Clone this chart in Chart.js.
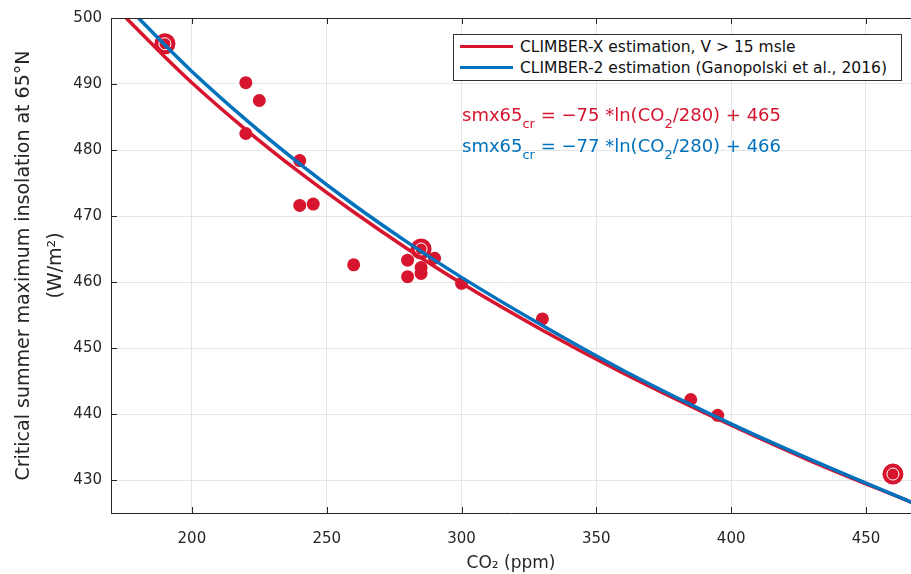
<!DOCTYPE html>
<html>
<head>
<meta charset="utf-8">
<script src="https://cdn.jsdelivr.net/npm/chart.js@4/dist/chart.umd.min.js"></script>
<style>
  html, body { margin: 0; padding: 0; background: #fff; }
  #wrap { position: relative; width: 911px; height: 574px; overflow: hidden; font-family: 'DejaVu Sans', sans-serif; }
  #c { display: block; }
  .legend {
    position: absolute; left: 453px; top: 34px; width: 449px; height: 47px;
    border: 1px solid #333; background: #fff; box-sizing: border-box; font-size: 15.5px; color: #111;
  }
  .legend .row { position: absolute; left: 6px; height: 20px; line-height: 20px; white-space: nowrap; }
  .legend .swatch { display: inline-block; width: 53px; height: 3px; vertical-align: middle; margin-right: 7px; position: relative; top: -1px; }
  .eq { position: absolute; left: 462px; font-size: 18px; white-space: nowrap; }
  .eq sub { font-size: 13px; vertical-align: -7px; line-height: 0; }
</style>
</head>
<body>
<div id="wrap">
  <canvas id="c" width="911" height="574"></canvas>
  <div class="legend">
    <div class="row" style="top:2px"><span class="swatch" style="background:#d7152f"></span>CLIMBER-X estimation, V &gt; 15 msle</div>
    <div class="row" style="top:23px"><span class="swatch" style="background:#0072bd"></span>CLIMBER-2 estimation (Ganopolski et al., 2016)</div>
  </div>
  <div class="eq" style="top:104px; color:#d7152f">smx65<sub>cr</sub> = −75 *ln(CO<sub>2</sub>/280) + 465</div>
  <div class="eq" style="top:135px; color:#0072bd">smx65<sub>cr</sub> = −77 *ln(CO<sub>2</sub>/280) + 466</div>
</div>
<script>
// data
const xTicks = [200, 250, 300, 350, 400, 450];
const yTicks = [430, 440, 450, 460, 470, 480, 490, 500];

// CLIMBER-X fit (red)
const redCo2 = [175.6, 190, 200, 220, 240, 260, 280, 300, 330, 360, 400, 430, 467];
const redSmx = [500, 494.1, 490.2, 483.1, 476.6, 470.6, 465, 459.8, 452.7, 446.2, 438.3, 432.8, 426.6];

// CLIMBER-2 fit (blue)
const blueCo2 = [180.2, 190, 200, 220, 240, 260, 280, 300, 330, 360, 400, 430, 467];
const blueSmx = [500, 495.9, 491.9, 484.6, 477.9, 471.7, 466, 460.7, 453.4, 446.6, 438.5, 433.0, 426.6];

// simulations
const dotCo2 = [220, 225, 220, 240, 240, 245, 260, 280, 280, 285, 285, 290, 300, 330, 385, 395];
const dotSmx = [490.2, 487.5, 482.5, 478.4, 471.6, 471.8, 462.6, 463.3, 460.8, 462.2, 461.3, 463.6, 459.8, 454.4, 442.2, 439.8];

// highlighted simulations
const bigCo2 = [190, 285, 460];
const bigSmx = [496.1, 465.0, 430.9];

const RED = '#d7152f';
const BLUE = '#0072bd';

const pts = (xs, ys) => xs.map((x, i) => ({ x: x, y: ys[i] }));

// box on top + inward ticks, like matlab axes
const axesBox = {
  id: 'axesBox',
  afterDraw(chart) {
    const { ctx, chartArea: a, scales } = chart;
    ctx.save();
    ctx.strokeStyle = '#262626';
    ctx.lineWidth = 1;
    ctx.beginPath();
    ctx.moveTo(a.left, a.top + 0.5);
    ctx.lineTo(a.right, a.top + 0.5);
    xTicks.forEach(v => {
      const px = Math.round(scales.x.getPixelForValue(v)) + 0.5;
      ctx.moveTo(px, a.bottom);
      ctx.lineTo(px, a.bottom - 6);
      ctx.moveTo(px, a.top);
      ctx.lineTo(px, a.top + 6);
    });
    yTicks.forEach(v => {
      const py = Math.round(scales.y.getPixelForValue(v)) + 0.5;
      ctx.moveTo(a.left, py);
      ctx.lineTo(a.left + 6, py);
    });
    ctx.stroke();
    ctx.restore();
  }
};

new Chart(document.getElementById('c'), {
  type: 'scatter',
  data: {
    datasets: [
      {
        label: 'CLIMBER-2 estimation (Ganopolski et al., 2016)',
        data: pts(blueCo2, blueSmx),
        showLine: true, borderColor: BLUE, borderWidth: 3.5, pointRadius: 0,
        cubicInterpolationMode: 'monotone', fill: false
      },
      {
        label: 'CLIMBER-X estimation, V > 15 msle',
        data: pts(redCo2, redSmx),
        showLine: true, borderColor: RED, borderWidth: 3.5, pointRadius: 0,
        cubicInterpolationMode: 'monotone', fill: false
      },
      {
        label: 'highlight inner',
        data: pts(bigCo2, bigSmx),
        pointRadius: 6, backgroundColor: RED, borderColor: '#fff', borderWidth: 1
      },
      {
        label: 'highlight',
        data: pts(bigCo2, bigSmx),
        pointRadius: 10.5, backgroundColor: RED, borderWidth: 0
      },
      {
        label: 'simulations',
        data: pts(dotCo2, dotSmx),
        pointRadius: 6.5, backgroundColor: RED, borderWidth: 0
      }
    ]
  },
  options: {
    responsive: false,
    animation: false,
    layout: { autoPadding: false, padding: { top: 16, right: 0, left: 0, bottom: 0 } },
    plugins: {
      legend: { display: false },
      tooltip: { enabled: false }
    },
    scales: {
      x: {
        type: 'linear', min: 170, max: 466.7,
        afterBuildTicks: s => { s.ticks = xTicks.map(v => ({ value: v })); },
        afterFit: s => { s.height = 61; s.paddingLeft = 0; s.paddingRight = 0; },
        grid: { color: '#e6e6e6', drawTicks: false },
        border: { display: true, color: '#262626', width: 1 },
        ticks: { color: '#262626', padding: 17, font: { family: 'DejaVu Sans', size: 15 } },
        title: {
          display: true, text: 'CO₂ (ppm)', color: '#262626',
          padding: { top: 0, bottom: 0 }, font: { family: 'DejaVu Sans', size: 17 }
        }
      },
      y: {
        type: 'linear', min: 425, max: 500,
        afterBuildTicks: s => { s.ticks = yTicks.map(v => ({ value: v })); },
        afterFit: s => { s.width = 111; },
        grid: { color: '#e6e6e6', drawTicks: false },
        border: { display: true, color: '#262626', width: 1 },
        ticks: { color: '#262626', padding: 9, font: { family: 'DejaVu Sans', size: 15 } },
        title: {
          display: true,
          text: ['Critical summer maximum insolation at 65°N', '(W/m²)'],
          color: '#262626', padding: { top: 8, bottom: 0 },
          font: { family: 'DejaVu Sans', size: 19, lineHeight: 1.68 }
        }
      }
    }
  },
  plugins: [axesBox]
});
</script>
</body>
</html>
